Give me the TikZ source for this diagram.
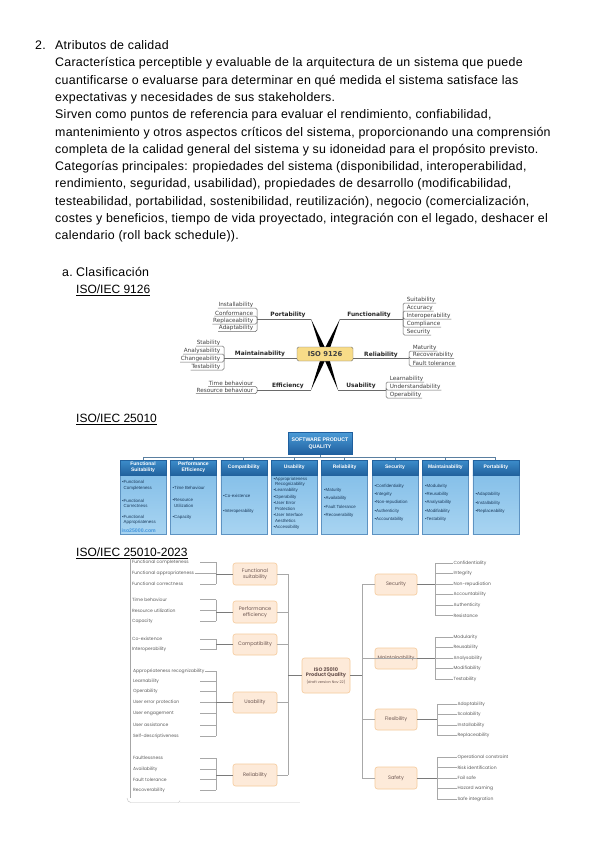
\documentclass[tikz,border=0pt]{standalone}
\usepackage{fontspec}
\setmainfont{Liberation Sans}
\newfontfamily\bodyfont[LetterSpace=2.2]{Liberation Sans}
\newfontfamily\dvsans{DejaVu Sans}
\newfontfamily\popp{Poppins}
\usetikzlibrary{calc,shadows}
\definecolor{m9yel}{HTML}{F8DC88}
\definecolor{m9line}{HTML}{6A6A6A}
\definecolor{qtopA}{HTML}{4A9AD6}
\definecolor{qtopB}{HTML}{1F5F9E}
\definecolor{qheadA}{HTML}{3C8DCB}
\definecolor{qheadB}{HTML}{22629E}
\definecolor{qbodyA}{HTML}{86C0E9}
\definecolor{qbodyB}{HTML}{A8D4F1}
\definecolor{qbodyD}{HTML}{5E93C2}
\definecolor{qitem}{HTML}{1A3A5C}
\definecolor{qbus}{HTML}{5A7FA0}
\definecolor{pfill}{HTML}{FDEAD9}
\definecolor{pdraw}{HTML}{F5CB9C}
\definecolor{ptext}{HTML}{6B5550}
\definecolor{pleaf}{HTML}{5E5E5E}
\definecolor{pline}{HTML}{A8A8A8}
\definecolor{pthick}{HTML}{7A7A7A}
\begin{document}
\begin{tikzpicture}[x=1pt,y=-1pt,
  bodytxt/.style={anchor=base west,inner sep=0pt,font=\bodyfont\fontsize{12.4}{14}\selectfont},
  headtxt/.style={anchor=base west,inner sep=0pt,font=\fontsize{12}{14}\selectfont},
  m9br/.style={anchor=south,inner sep=0.8pt,font=\dvsans\bfseries\fontsize{5.9}{6}\selectfont,text=black!85},
  m9lfL/.style={anchor=south east,inner sep=0.6pt,font=\dvsans\fontsize{5.7}{6}\selectfont,text=black!75},
  m9lfR/.style={anchor=south west,inner sep=0.6pt,font=\dvsans\fontsize{5.7}{6}\selectfont,text=black!75},
  m9ln/.style={draw=m9line,line width=0.5pt,rounded corners=1.5pt},
  q2head/.style={minimum width=46pt,minimum height=15pt,inner sep=0.5pt,top color=qheadA,bottom color=qheadB,draw=qheadB,line width=0.3pt,text=white,align=center,font=\bfseries\fontsize{5}{6}\selectfont},
  q2body/.style={minimum width=46pt,minimum height=59pt,top color=qbodyA,bottom color=qbodyB,draw=qbodyD,line width=0.3pt,drop shadow={opacity=0.25,shadow xshift=0.7pt,shadow yshift=-0.7pt}},
  q2item/.style={anchor=west,inner sep=0pt,align=left,text=qitem,font=\fontsize{4.4}{5.6}\selectfont},
  q2link/.style={draw=qbus,line width=0.7pt},
  q3box/.style={rounded corners=2.5pt,fill=pfill,draw=pdraw,line width=0.6pt,text=ptext,font=\popp\fontsize{5}{6}\selectfont,align=center,inner sep=0.5pt},
  q3leaf/.style={anchor=west,inner sep=0.4pt,text=pleaf,font=\popp\fontsize{4.5}{5}\selectfont},
  q3ln/.style={draw=pline,line width=0.5pt},
  q3thick/.style={draw=pthick,line width=1pt}]
\useasboundingbox (0,0) rectangle (599,848);
\fill[white] (0,0) rectangle (599,848);

% ---------------- text ----------------
\node[bodytxt] (n2) at (35,49.5) {2.};
\node[bodytxt] (t0) at (55,49.5) {Atributos de calidad};
\node[bodytxt] (t1) at (55,66.8) {Característica perceptible y evaluable de la arquitectura de un sistema que puede};
\node[bodytxt] (t2) at (55,84.1) {cuantificarse o evaluarse para determinar en qué medida el sistema satisface las};
\node[bodytxt] (t3) at (55,101.4) {expectativas y necesidades de sus stakeholders.};
\node[bodytxt] (t4) at (55,118.7) {Sirven como puntos de referencia para evaluar el rendimiento, confiabilidad,};
\node[bodytxt] (t5) at (55,136) {mantenimiento y otros aspectos críticos del sistema, proporcionando una comprensión};
\node[bodytxt] (t6) at (55,153.3) {completa de la calidad general del sistema y su idoneidad para el propósito previsto.};
\node[bodytxt] (t7) at (55,170.6) {Categorías principales: propiedades del sistema (disponibilidad, interoperabilidad,};
\node[bodytxt] (t8) at (55,187.9) {rendimiento, seguridad, usabilidad), propiedades de desarrollo (modificabilidad,};
\node[bodytxt] (t9) at (55,205.2) {testeabilidad, portabilidad, sostenibilidad, reutilización), negocio (comercialización,};
\node[bodytxt] (t10) at (55,222.5) {costes y beneficios, tiempo de vida proyectado, integración con el legado, deshacer el};
\node[bodytxt] (t11) at (55,239.8) {calendario (roll back schedule)).};

\node[bodytxt] (na) at (62,276.5) {a.};
\node[bodytxt] (ha) at (76,276.5) {Clasificación};
\node[headtxt] (h1) at (76,293.5) {\underline{ISO/IEC 9126}};
\node[headtxt] (h2) at (76,422.5) {\underline{ISO/IEC 25010}};
\node[headtxt] (h3) at (76,556.5) {\underline{ISO/IEC 25010-2023}};

% ---------------- ISO 9126 mind map ----------------
\coordinate (tl) at (311,319);
\coordinate (tr) at (340,319);
\coordinate (bl) at (311,390);
\coordinate (br) at (338,390);
\coordinate (xc) at (325,354);
\foreach \a in {tl,tr,bl,br}{
  \fill[black] (\a) -- ($(xc)!2.8pt!90:(\a)$) -- ($(xc)!2.8pt!-90:(\a)$) -- cycle;
}
\node[draw=black!55,fill=m9yel,rounded corners=1.5pt,minimum width=56pt,minimum height=14pt,inner sep=0pt,
      font=\dvsans\bfseries\fontsize{6.8}{7}\selectfont,text=black!75] (iso9126) at (325,354) {ISO 9126};

% Portability
\node[m9br] (port) at (288,319) {Portability};
\coordinate (portb) at (257,319);
\node[m9lfL] (pl1) at (254,308) {Installability};
\node[m9lfL] (pl2) at (254,316) {Conformance};
\node[m9lfL] (pl3) at (254,324) {Replaceability};
\node[m9lfL] (pl4) at (254,331.5) {Adaptability};
\foreach \n in {pl1,pl2,pl3,pl4}{\draw[m9ln] (\n.south west) -- (\n.south east) -| (portb);}
\draw[m9ln] (portb) -- (tl);

% Functionality
\node[m9br] (func) at (369,319) {Functionality};
\coordinate (funcb) at (403,319);
\node[m9lfR] (fl1) at (406,303) {Suitability};
\node[m9lfR] (fl2) at (406,311) {Accuracy};
\node[m9lfR] (fl3) at (406,319) {Interoperability};
\node[m9lfR] (fl4) at (406,327) {Compliance};
\node[m9lfR] (fl5) at (406,335) {Security};
\foreach \n in {fl1,fl2,fl3,fl4,fl5}{\draw[m9ln] (\n.south east) -- (\n.south west) -| (funcb);}
\draw[m9ln] (tr) -- (funcb);

% Maintainability
\node[m9br] (maint) at (260,358) {Maintainability};
\coordinate (maintb) at (224,358);
\node[m9lfL] (ml1) at (221,346) {Stability};
\node[m9lfL] (ml2) at (221,354) {Analysability};
\node[m9lfL] (ml3) at (221,362) {Changeability};
\node[m9lfL] (ml4) at (221,370) {Testability};
\foreach \n in {ml1,ml2,ml3,ml4}{\draw[m9ln] (\n.south west) -- (\n.south east) -| (maintb);}
\draw[m9ln] (maintb) -- (iso9126.west |- maintb);

% Reliability
\node[m9br] (reli) at (381,358.5) {Reliability};
\coordinate (relib) at (409,358.5);
\node[m9lfR] (rl1) at (412,351) {Maturity};
\node[m9lfR] (rl2) at (412,358.5) {Recoverability};
\node[m9lfR] (rl3) at (412,366) {Fault tolerance};
\foreach \n in {rl1,rl2,rl3}{\draw[m9ln] (\n.south east) -- (\n.south west) -| (relib);}
\draw[m9ln] (iso9126.east |- relib) -- (relib);

% Efficiency
\node[m9br] (effi) at (288,390) {Efficiency};
\coordinate (effib) at (257,390);
\node[m9lfL] (el1) at (254,386.5) {Time behaviour};
\node[m9lfL] (el2) at (254,393.5) {Resource behaviour};
\foreach \n in {el1,el2}{\draw[m9ln] (\n.south west) -- (\n.south east) -| (effib);}
\draw[m9ln] (effib) -- (bl);

% Usability
\node[m9br] (usab) at (361,390) {Usability};
\coordinate (usabb) at (386,390);
\node[m9lfR] (ul1) at (389,382) {Learnability};
\node[m9lfR] (ul2) at (389,390) {Understandability};
\node[m9lfR] (ul3) at (389,398) {Operability};
\foreach \n in {ul1,ul2,ul3}{\draw[m9ln] (\n.south east) -- (\n.south west) -| (usabb);}
\draw[m9ln] (br) -- (usabb);

% ---------------- ISO 25010 tree ----------------
\coordinate (bus) at (143,457);
\node[minimum width=64pt,minimum height=22pt,inner sep=0.5pt,top color=qtopA,bottom color=qtopB,draw=qtopB,line width=0.3pt,
      text=white,align=center,font=\bfseries\fontsize{5.2}{6.6}\selectfont,
      drop shadow={opacity=0.3,shadow xshift=0.8pt,shadow yshift=-0.8pt}] (spq) at (320,443.5) {SOFTWARE PRODUCT\\QUALITY};
\foreach \i/\nm in {0/{Functional\\Suitability},1/{Performance\\Efficiency},2/{Compatibility},3/{Usability},4/{Reliability},5/{Security},6/{Maintainability},7/{Portability}}{
  \pgfmathsetmacro\cx{143+\i*50.4}
  \node[q2body] (qb\i) at (\cx,504.5) {};
  \node[q2head] (qh\i) at (\cx,467.5) {\nm};
  \draw[q2link] (qh\i.north) -- (qh\i.north |- bus);
}
\draw[q2link] (qh0.north |- bus) -- (qh7.north |- bus);
\draw[q2link] (spq.south) -- (spq.south |- bus);

% column items
\node[q2item] (i01) at (122,485.5) {•Functional\\\phantom{•}Completeness};
\node[q2item] (i02) at (122,503.5) {•Functional\\\phantom{•}Correctness};
\node[q2item] (i03) at (122,520) {•Functional\\\phantom{•}Appropriateness};
\node[anchor=west,inner sep=0pt,text={rgb,255:red,70;green,150;blue,220},font=\bfseries\fontsize{5.2}{6}\selectfont] (iso25k) at (121.5,530.5) {iso25000.com};

\node[q2item] (i11) at (172.5,488) {•Time Behaviour};
\node[q2item] (i12) at (172.5,503) {•Resource\\\phantom{•}Utilization};
\node[q2item] (i13) at (172.5,517) {•Capacity};

\node[q2item] (i21) at (223,496) {•Co-existence};
\node[q2item] (i22) at (223,511) {•Interoperability};

\node[q2item] (i31) at (273.5,482) {•Appropriateness\\\phantom{•}Recognizability};
\node[q2item] (i32) at (273.5,490.8) {•Learnability};
\node[q2item] (i33) at (273.5,497.2) {•Operability};
\node[q2item] (i34) at (273.5,506) {•User Error\\\phantom{•}Protection};
\node[q2item] (i35) at (273.5,518) {•User Interface\\\phantom{•}Aesthetics};
\node[q2item] (i36) at (273.5,527.5) {•Accessibility};

\node[q2item] (i41) at (324,490) {•Maturity};
\node[q2item] (i42) at (324,498.5) {•Availability};
\node[q2item] (i43) at (324,507) {•Fault Tolerance};
\node[q2item] (i44) at (324,515.5) {•Recoverability};

\node[q2item] (i51) at (374.5,486) {•Confidentiality};
\node[q2item] (i52) at (374.5,494.3) {•Integrity};
\node[q2item] (i53) at (374.5,502.6) {•Non-repudiation};
\node[q2item] (i54) at (374.5,510.9) {•Authenticity};
\node[q2item] (i55) at (374.5,519.2) {•Accountability};

\node[q2item] (i61) at (425,486) {•Modularity};
\node[q2item] (i62) at (425,494.3) {•Reusability};
\node[q2item] (i63) at (425,502.6) {•Analysability};
\node[q2item] (i64) at (425,510.9) {•Modifiability};
\node[q2item] (i65) at (425,519.2) {•Testability};

\node[q2item] (i71) at (475.5,494.5) {•Adaptability};
\node[q2item] (i72) at (475.5,503) {•Installability};
\node[q2item] (i73) at (475.5,511.5) {•Replaceability};

% ---------------- ISO 25010-2023 tree ----------------
\draw[draw=black!35,line width=0.5pt] (130,558) -- (130,798);
\coordinate (lx) at (200,0);
\coordinate (lb) at (216,0);
\coordinate (vL) at (288,0);
\coordinate (vR) at (362,0);
\coordinate (rbA) at (435,0);
\coordinate (rbB) at (437,0);

\node[q3leaf] (l1) at (131.5,562) {Functional completeness};
\node[q3leaf] (l2) at (131.5,573) {Functional appropriateness};
\node[q3leaf] (l3) at (131.5,584) {Functional correctness};
\node[q3leaf] (l4) at (131.5,599.5) {Time behaviour};
\node[q3leaf] (l5) at (131.5,610.5) {Resource utilization};
\node[q3leaf] (l6) at (131.5,621) {Capacity};
\node[q3leaf] (l7) at (131.5,639) {Co-existence};
\node[q3leaf] (l8) at (131.5,649.5) {Interoperability};
\node[q3leaf] (l9) at (132.5,671) {Appropriateness recognizability};
\node[q3leaf] (l10) at (132.5,681) {Learnability};
\node[q3leaf] (l11) at (132.5,691.5) {Operability};
\node[q3leaf] (l12) at (132.5,702.5) {User error protection};
\node[q3leaf] (l13) at (132.5,713.5) {User engagement};
\node[q3leaf] (l14) at (132.5,725) {User assistance};
\node[q3leaf] (l15) at (132.5,736) {Self-descriptiveness};
\node[q3leaf] (l16) at (132.5,758) {Faultlessness};
\node[q3leaf] (l17) at (132.5,769) {Availability};
\node[q3leaf] (l18) at (132.5,779.5) {Fault tolerance};
\node[q3leaf] (l19) at (132.5,790) {Recoverability};

\node[q3box,minimum width=44pt,minimum height=22pt] (fs) at (255,574) {Functional\\suitability};
\node[q3box,minimum width=44pt,minimum height=22pt] (pe) at (255,612) {Performance\\efficiency};
\node[q3box,minimum width=44pt,minimum height=21pt] (co) at (255,644.5) {Compatibility};
\node[q3box,minimum width=44pt,minimum height=21pt] (us) at (255,702.5) {Usability};
\node[q3box,minimum width=44pt,minimum height=22pt] (re) at (255,775) {Reliability};

\foreach \n in {l1,l3,l4,l5,l6,l7,l8,l10,l11,l12,l13,l14,l15,l16,l17,l18,l19}{\draw[q3ln] (lx |- \n) -- (lb |- \n);}
\foreach \n in {l2,l9}{\draw[q3ln] (\n.east) -- (lb |- \n);}
\draw[q3ln] (lb |- l1) -- (lb |- l3);
\draw[q3ln] (lb |- l4) -- (lb |- l6);
\draw[q3ln] (lb |- l7) -- (lb |- l8);
\draw[q3ln] (lb |- l9) -- (lb |- l15);
\draw[q3ln] (lb |- l16) -- (lb |- l19);
\foreach \b in {fs,pe,co,us,re}{
  \draw[q3thick] (lb |- \b) -- (\b.west);
  \draw[q3ln] (\b.east) -- (vL |- \b);
}
\draw[q3ln] (vL |- fs) -- (vL |- re);

\node[q3box,minimum width=48pt,minimum height=35pt,inner sep=0pt] (iso) at (326,675.5)
  {{\bfseries ISO 25010}\\[-0.5pt]{\bfseries Product Quality}\\[0.5pt]{\fontsize{3.6}{4}\selectfont (draft version Nov 22)}};
\draw[q3thick] (vL |- iso) -- (iso.west);
\draw[q3thick] (iso.east) -- (vR |- iso);

\node[q3box,minimum width=42pt,minimum height=21pt] (sec) at (396,584.5) {Security};
\node[q3box,minimum width=42pt,minimum height=21pt] (mnt) at (396,658.5) {Maintainability};
\node[q3box,minimum width=42pt,minimum height=21pt] (flx) at (396,719.5) {Flexibility};
\node[q3box,minimum width=42pt,minimum height=22pt] (saf) at (396,778) {Safety};
\draw[q3ln] (vR |- sec) -- (vR |- saf);
\foreach \b in {sec,mnt,flx,saf}{\draw[q3ln] (vR |- \b) -- (\b.west);}
\draw[q3ln] (mnt.west) -- (mnt.east);

\node[q3leaf] (r1) at (453,563) {Confidentiality};
\node[q3leaf] (r2) at (453,573.5) {Integrity};
\node[q3leaf] (r3) at (453,584) {Non-repudiation};
\node[q3leaf] (r4) at (453,594.5) {Accountability};
\node[q3leaf] (r5) at (453,605) {Authenticity};
\node[q3leaf] (r6) at (453,615.5) {Resistance};
\node[q3leaf] (r7) at (453,637) {Modularity};
\node[q3leaf] (r8) at (453,647.5) {Reusability};
\node[q3leaf] (r9) at (453,658) {Analysability};
\node[q3leaf] (r10) at (453,668.5) {Modifiability};
\node[q3leaf] (r11) at (453,679) {Testability};
\node[q3leaf] (r12) at (457,704) {Adaptability};
\node[q3leaf] (r13) at (457,714.5) {Scalability};
\node[q3leaf] (r14) at (457,725) {Installability};
\node[q3leaf] (r15) at (457,735.5) {Replaceability};
\node[q3leaf] (r16) at (457,757) {Operational constraint};
\node[q3leaf] (r17) at (457,767.5) {Risk identification};
\node[q3leaf] (r18) at (457,778) {Fail safe};
\node[q3leaf] (r19) at (457,788.5) {Hazard warning};
\node[q3leaf] (r20) at (457,799) {Safe integration};

\foreach \n in {r1,r2,r3,r4,r5,r6,r7,r8,r9,r10,r11}{\draw[q3ln] (rbA |- \n) -- (\n.west);}
\foreach \n in {r12,r13,r14,r15,r16,r17,r18,r19,r20}{\draw[q3ln] (rbB |- \n) -- (\n.west);}
\draw[q3ln] (rbA |- r1) -- (rbA |- r6);
\draw[q3ln] (rbA |- r7) -- (rbA |- r11);
\draw[q3ln] (rbB |- r12) -- (rbB |- r15);
\draw[q3ln] (rbB |- r16) -- (rbB |- r20);
\draw[q3thick] (sec.east) -- (rbA |- sec);
\draw[q3thick] (mnt.east) -- (rbA |- mnt);
\draw[q3thick] (flx.east) -- (rbB |- flx);
\draw[q3thick] (saf.east) -- (rbB |- saf);

% faint crop edge
\draw[black!25,line width=0.4pt] (127,798) to[out=-90,in=180] (131,802.5) -- (178,802.5) to[out=0,in=-90] (180,800.5);
\draw[black!8,line width=0.5pt] (180,802.5) -- (300,802.5);
\end{tikzpicture}
\end{document}
